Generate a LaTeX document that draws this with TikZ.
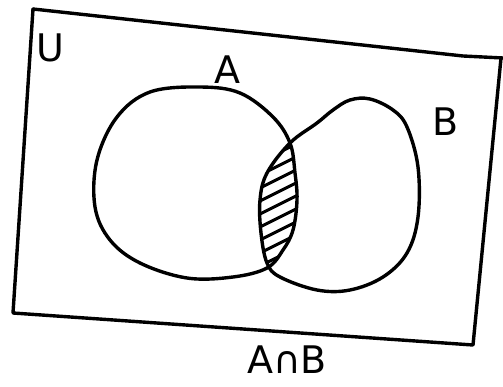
\documentclass[tikz,border=0pt]{standalone}
\usepackage{fontspec}
\setmainfont{DejaVu Sans}
\begin{document}
\begin{tikzpicture}[x=1pt,y=-1pt,
  pen/.style={line width=3.4pt,line cap=round,line join=round},
  hatchline/.style={line width=3pt,line cap=round},
  lbl/.style={font=\fontsize{38}{38}\selectfont,inner sep=0pt}]
\useasboundingbox (0,0) rectangle (503,387);
% universe
\coordinate (tl) at (33,9);
\coordinate (tr) at (501,58);
\coordinate (br) at (473,345);
\coordinate (bl) at (13,313);
\draw[pen] (tl) -- (463,56) -- (503,58);
\draw[pen] (tl) -- (bl) -- (br) -- (tr);
% sets
\def\pathA{plot[smooth cycle,tension=0.6] coordinates{(267,268)(233,277)(187,278)(140,263)(110,240)(95,207)(97,160)(117,117)(150,92)(200,87)(240,93)(273,117)(290,143)(295,173)(297,200)(293,230)(283,250)}}
\def\pathB{plot[smooth cycle,tension=0.6] coordinates{(290,143)(267,173)(260,200)(261,233)(267,263)(280,277)(317,290)(350,290)(383,277)(407,253)(418,217)(418,167)(407,127)(393,110)(370,99)(350,100)(333,110)(317,123)}}
% hatching of intersection
\begin{scope}
  \clip \pathA;
  \clip \pathB;
  \foreach \k in {0,...,11}{
    \draw[hatchline] (240,{172+13*\k}) -- (320,{132+13*\k});
  }
\end{scope}
\draw[pen] \pathA;
\draw[pen] \pathB;
% labels
\node[lbl] (u) at (50,48) {U};
\node[lbl] (a) at (227,70) {A};
\node[lbl] (b) at (446,122) {B};
\node[lbl] (ab) at (287,360) {A∩B};
\end{tikzpicture}
\end{document}
